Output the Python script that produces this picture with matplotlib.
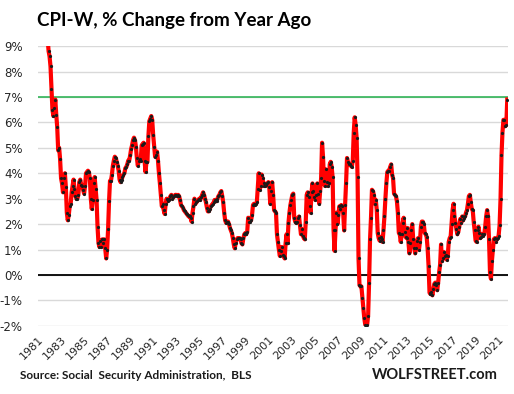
import numpy as np
import matplotlib
matplotlib.use("Agg")
import matplotlib.pyplot as plt

# CPI-W, % change from a year earlier, monthly, Jan 1981 - Oct 2021
cpi_1980s = [
    11.6, 11.2, 10.4, 10.0, 9.8, 9.6, 10.7, 10.8, 11.0, 10.0, 9.3, 8.8,     # 1981
    8.6, 8.2, 7.3, 6.5, 6.25, 6.55, 6.9, 6.3, 5.8, 4.9, 5.0, 4.55,          # 1982
    3.8, 3.6, 3.25, 3.8, 4.0, 3.45, 2.45, 2.15, 2.35, 2.7, 2.8, 3.25,       # 1983
    3.5, 3.75, 3.4, 3.1, 3.0, 3.0, 3.15, 3.65, 3.75, 3.55, 3.5, 3.35,       # 1984
    3.2, 3.5, 4.0, 4.05, 4.1, 4.05, 3.8, 3.0, 2.6, 2.95, 3.6, 3.85,         # 1985
    3.4, 2.95, 1.9, 1.25, 1.1, 1.35, 1.1, 1.4, 1.25, 1.4, 1.05, 0.65,       # 1986
    1.0, 1.8, 2.9, 3.7, 3.7, 3.95, 4.3, 4.5, 4.65, 4.6, 4.45, 4.3,          # 1987
    4.1, 3.75, 3.65, 3.75, 3.85, 3.95, 4.0, 4.2, 4.25, 4.35, 4.5, 4.5,      # 1988
    4.7, 4.95, 5.1, 5.3, 5.4, 5.3, 5.05, 4.6, 4.3, 4.5, 4.55, 4.5,          # 1989
]
cpi_1990s = [
    5.1, 5.15, 5.2, 4.5, 4.05, 4.45, 4.45, 5.45, 6.05, 6.15, 6.25, 6.1,     # 1990
    5.5, 5.05, 4.65, 4.7, 4.85, 4.5, 4.0, 3.6, 3.15, 2.7, 2.8, 2.55,        # 1991
    2.4, 2.8, 3.0, 2.9, 2.95, 3.0, 3.1, 3.15, 3.0, 3.05, 3.1, 3.15,         # 1992
    3.15, 3.1, 3.15, 3.1, 2.95, 2.75, 2.7, 2.65, 2.55, 2.5, 2.45, 2.4,      # 1993
    2.35, 2.3, 2.3, 2.25, 2.1, 2.45, 2.7, 3.0, 2.8, 2.85, 2.9, 2.95,        # 1994
    3.0, 2.95, 3.05, 3.15, 3.25, 3.15, 3.0, 2.85, 2.65, 2.5, 2.5, 2.6,      # 1995
    2.7, 2.75, 2.8, 2.85, 2.95, 2.9, 2.9, 3.0, 3.1, 3.15, 3.25, 3.3,        # 1996
    3.1, 2.85, 2.45, 2.15, 2.05, 2.1, 2.1, 2.0, 1.85, 1.75, 1.65, 1.45,     # 1997
    1.2, 1.05, 1.25, 1.4, 1.45, 1.45, 1.45, 1.4, 1.25, 1.2, 1.45, 1.6,      # 1998
    1.65, 1.6, 1.7, 2.25, 2.1, 2.1, 2.15, 2.35, 2.75, 2.8, 2.75, 2.8,       # 1999
]
cpi_2000s = [
    2.85, 3.4, 4.0, 3.35, 3.5, 3.95, 3.8, 3.5, 3.6, 3.5, 3.55, 3.6,         # 2000
    3.65, 3.45, 2.8, 3.3, 3.65, 3.15, 2.55, 2.5, 2.45, 1.6, 1.3, 1.0,       # 2001
    0.75, 0.95, 1.1, 0.8, 0.75, 0.65, 1.25, 1.6, 1.25, 2.05, 2.45, 2.75,    # 2002
    2.95, 3.15, 3.2, 2.25, 2.1, 2.05, 2.1, 2.25, 2.3, 1.95, 1.6, 1.8,       # 2003
    1.55, 1.45, 1.4, 2.1, 3.15, 3.25, 3.05, 2.7, 2.45, 3.25, 3.6, 3.3,      # 2004
    3.05, 2.95, 3.15, 3.6, 3.2, 2.8, 3.3, 3.8, 5.2, 4.65, 3.7, 3.5,         # 2005
    4.15, 3.65, 3.5, 3.6, 4.35, 4.45, 4.25, 3.85, 1.75, 0.95, 1.75, 2.45,   # 2006
    2.0, 2.35, 2.7, 2.6, 2.75, 2.7, 2.45, 1.75, 2.75, 3.6, 4.6, 4.45,       # 2007
    4.35, 4.35, 4.3, 4.25, 4.5, 5.6, 6.2, 5.9, 5.4, 3.85, 0.65, -0.4,       # 2008
    -0.45, -0.45, -0.9, -1.3, -1.7, -1.95, -2.0, -1.95, -1.6, -0.3, 1.4, 2.25,  # 2009
]
cpi_2010s = [
    3.35, 3.3, 3.15, 2.8, 2.95, 2.55, 1.65, 1.45, 1.35, 1.5, 1.4, 1.3,      # 2010
    1.75, 2.3, 3.0, 3.6, 4.05, 4.1, 4.1, 4.25, 4.35, 3.95, 3.8, 3.2,        # 2011
    3.15, 3.1, 2.9, 2.45, 1.65, 1.6, 1.3, 1.6, 2.05, 2.25, 1.7, 1.5,        # 2012
    1.45, 1.85, 1.3, 0.85, 1.25, 1.75, 2.0, 1.4, 1.05, 0.85, 1.05, 1.35,    # 2013
    1.45, 1.0, 1.3, 1.9, 2.1, 2.1, 2.0, 1.65, 1.6, 1.5, 1.05, 0.35,         # 2014
    -0.7, -0.75, -0.65, -0.8, -0.55, -0.35, -0.3, -0.4, -0.6, -0.3, 0.1, 0.4,  # 2015
    1.2, 0.55, 0.65, 0.9, 0.75, 0.8, 0.6, 0.75, 1.3, 1.45, 1.5, 2.0,        # 2016
    2.55, 2.8, 2.3, 2.05, 1.8, 1.6, 1.7, 1.9, 2.2, 2.05, 2.3, 2.15,         # 2017
    2.25, 2.3, 2.45, 2.55, 2.8, 3.1, 3.15, 2.85, 2.6, 2.55, 2.1, 1.75,      # 2018
    1.35, 1.3, 1.75, 1.9, 1.65, 1.45, 1.5, 1.6, 1.55, 1.6, 1.9, 2.3,        # 2019
]
cpi_2020s = [
    2.55, 2.3, 1.4, 0.1, -0.15, 0.55, 1.0, 1.4, 1.45, 1.3, 1.4, 1.45,       # 2020
    1.55, 1.95, 3.0, 4.7, 5.6, 6.1, 6.1, 5.85, 5.9, 6.9,                    # 2021 (to Oct)
]

first_year = 1981
tick_years = list(range(1981, 2022, 2))
y_ticks = list(range(-2, 10))
ref_level = 7

values = np.array(cpi_1980s + cpi_1990s + cpi_2000s + cpi_2010s + cpi_2020s)
months = np.arange(len(values))  # month index from Jan 1981

fig = plt.figure(figsize=(5.14, 3.94), dpi=100)
ax = fig.add_axes([0.074, 0.173, 0.914, 0.71])

# gridlines
for y in y_ticks:
    ax.axhline(y, color="#d9d9d9", lw=1.0, zorder=0)
ax.axhline(ref_level, color="#22b04b", lw=1.1, zorder=1)
ax.axhline(0, color="black", lw=1.3, zorder=1)

ax.plot(months, values, color="#ff0000", lw=3.0, zorder=3, solid_joinstyle="round")
ax.plot(months, values, "o", color="#1a1a1a", ms=2.3, mew=0, zorder=4)

ax.set_xlim(0, 489.6)
ax.set_ylim(-2, 9)
ax.set_yticks(y_ticks)
ax.set_yticklabels([f"{y}%" for y in y_ticks], fontsize=8.5, color="#262626")
ax.set_xticks([(yr - first_year) * 12 for yr in tick_years])
ax.set_xticklabels([str(yr) for yr in tick_years], rotation=45, ha="right",
                   va="top", rotation_mode="anchor", fontsize=8, color="#262626")
ax.tick_params(axis="both", length=0)
ax.tick_params(axis="y", pad=11)
ax.tick_params(axis="x", pad=6)
for s in ax.spines.values():
    s.set_visible(False)

fig.text(0.072, 0.948, "CPI-W, % Change from Year Ago", fontsize=13.5,
         fontweight="bold", family="Lato", ha="left", va="center")
fig.text(0.039, 0.048, "Source: Social  Security Administration,  BLS",
         fontsize=8.5, fontweight="bold", family="Lato", ha="left", va="center",
         color="#1a1a1a")
fig.text(0.969, 0.048, "WOLFSTREET.com", fontsize=10.5, fontweight="bold",
         family="Lato", ha="right", va="center", color="#1a1a1a")

fig.savefig("out.png", dpi=100)
